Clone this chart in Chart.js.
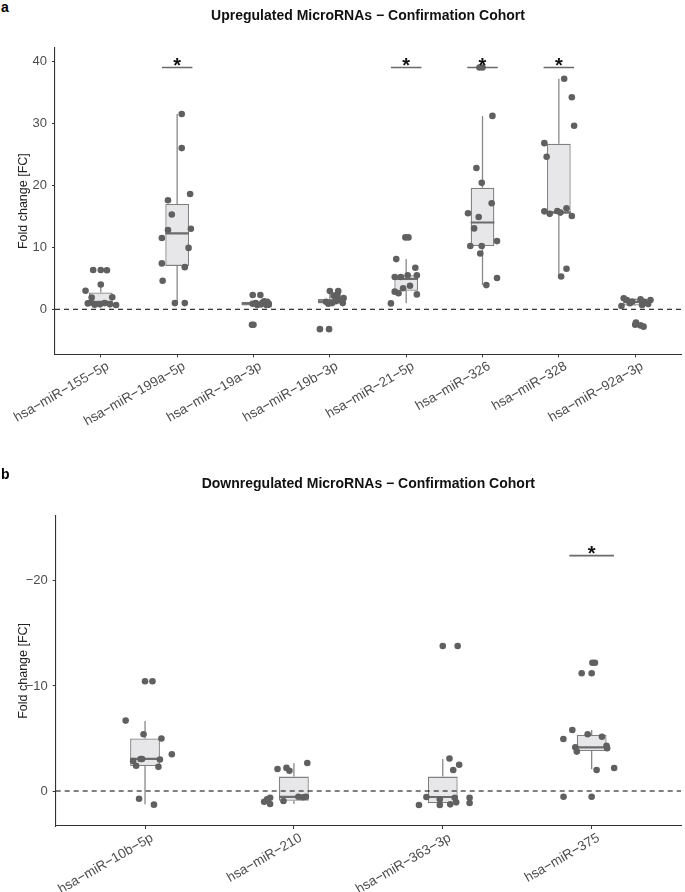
<!DOCTYPE html>
<html>
<head>
<meta charset="utf-8">
<script src="https://cdn.jsdelivr.net/npm/chart.js@4.4.1/dist/chart.umd.min.js"></script>
<style>
  body { margin: 0; background: #fff; }
  #wrap { position: relative; width: 685px; height: 892px; font-family: 'Liberation Sans', Arial, sans-serif; }
  canvas { position: absolute; left: 0; }
  .tag { position: absolute; left: 1px; font-weight: bold; font-size: 14px; line-height: 14px; }
</style>
</head>
<body>
<div id="wrap">
  <div class="tag" style="top:0px">a</div>
  <canvas id="upChart" width="685" height="470" style="top:0"></canvas>
  <div class="tag" style="top:467px">b</div>
  <canvas id="downChart" width="685" height="422" style="top:470px"></canvas>
</div>
<script>
// ---- panel a: upregulated ----
const upCategories = ['hsa-miR-155-5p', 'hsa-miR-199a-5p', 'hsa-miR-19a-3p', 'hsa-miR-19b-3p',
    'hsa-miR-21-5p', 'hsa-miR-326', 'hsa-miR-328', 'hsa-miR-92a-3p'];
const upValues = [
    [6.35, 6.35, 6.3, 4.0, 3.0, 1.9, 1.95, 0.95, 0.75, 0.8, 1.0, 0.8, 0.7, 1.1],
    [31.5, 26.0, 18.6, 17.6, 15.3, 12.8, 11.5, 13.0, 9.9, 7.4, 6.8, 4.6, 1.0, 1.0],
    [2.3, 2.3, -2.5, -2.5, 0.9, 0.7, 1.1, 0.7, 0.9, 0.75, 0.8, 1.3, 1.0, 1.2],
    [2.95, 2.95, 2.4, 2.2, -3.2, -3.2, 1.2, 1.0, 1.3, 1.4, 1.0, 1.6, 0.9, 1.8],
    [11.6, 11.6, 8.1, 6.7, 5.2, 5.2, 5.5, 5.5, 3.4, 3.8, 2.85, 2.6, 2.4, 0.95],
    [39.0, 39.0, 31.2, 22.8, 20.4, 17.1, 15.5, 14.9, 13.05, 11.0, 10.2, 10.2, 9.0, 5.05, 3.9],
    [37.2, 34.2, 29.6, 26.8, 24.6, 15.8, 15.4, 15.85, 16.3, 15.05, 15.6, 6.55, 5.3],
    [1.77, 1.5, 1.23, 1.6, 1.5, 0.53, 0.97, 0.69, 0.85, -2.15, -2.6, -2.8, -2.5, 1.2]
];
// horizontal jitter of each point (category units)
const upJitter = [
    [-0.10, 0.0, 0.08, 0.0, -0.2, -0.12, 0.15, -0.17, -0.08, -0.01, 0.05, 0.12, 0.2, -0.13],
    [0.06, 0.06, 0.17, -0.12, -0.07, -0.12, -0.2, 0.18, 0.15, -0.2, 0.1, -0.19, -0.03, 0.1],
    [-0.01, 0.09, -0.02, 0.0, -0.01, 0.05, 0.12, 0.17, 0.2, 0.2, 0.1, 0.14, 0.03, 0.18],
    [0.0, 0.11, 0.1, 0.05, -0.13, -0.01, -0.05, 0.03, 0.08, 0.15, 0.17, 0.12, -0.02, 0.18],
    [-0.01, 0.03, -0.13, 0.12, -0.15, -0.07, 0.02, 0.14, -0.04, 0.05, -0.15, -0.1, 0.14, -0.2],
    [-0.04, 0.0, 0.13, -0.08, -0.01, 0.12, -0.19, -0.05, -0.11, 0.19, -0.16, -0.01, -0.03, 0.19, 0.05],
    [0.07, 0.17, 0.2, -0.19, -0.16, -0.19, -0.12, -0.02, 0.1, 0.17, 0.02, 0.1, 0.03],
    [-0.15, -0.11, -0.04, 0.07, 0.2, -0.18, -0.07, 0.09, 0.17, 0.01, 0.07, 0.11, 0.0, 0.12]
];
const upQ1 = [0.88, 7.0, 0.6, 0.95, 3.0, 10.2, 15.4, 0.6];
const upMedian = [1.2, 12.25, 0.9, 1.3, 4.9, 14.0, 15.65, 1.2];
const upQ3 = [2.7, 17.0, 1.2, 1.66, 5.5, 19.6, 26.7, 1.7];
const upLower = [0.7, 1.0, 0.7, 0.9, 0.97, 3.9, 5.3, 0.53];
const upUpper = [4.0, 31.5, 1.3, 2.95, 8.1, 31.2, 37.2, 1.77];
const upSignificant = [false, true, false, false, true, true, true, false];
const upBracket = 39;
const upTicks = [0, 10, 20, 30, 40];

// ---- panel b: downregulated ----
const downCategories = ['hsa-miR-10b-5p', 'hsa-miR-210', 'hsa-miR-363-3p', 'hsa-miR-375'];
const downValues = [
    [-10.45, -10.45, -6.7, -5.4, -5.0, -3.5, -2.86, -3.05, -3.05, -3.0, -2.4, -2.3, 0.73, 1.3],
    [-2.1, -2.2, -1.93, -2.67, 1.02, 0.8, 0.64, 1.24, 0.95, 0.54, 0.54, 0.6],
    [-13.8, -13.8, -3.1, -2.5, -2.0, 0.57, 0.79, 0.64, 0.64, 1.33, 1.33, 1.27, 1.08, 1.14],
    [-12.2, -12.2, -11.2, -11.2, -5.8, -4.95, -5.4, -5.17, -4.16, -3.75, -4.3, -4.07, -2.0, -2.19, 0.54, 0.54]
];
const downJitter = [
    [0.0, 0.05, -0.13, -0.01, 0.11, 0.18, -0.08, -0.03, -0.02, 0.1, -0.06, 0.09, -0.04, 0.06],
    [-0.11, -0.05, -0.03, 0.09, -0.2, -0.18, -0.16, -0.16, -0.07, 0.03, 0.08, 0.06],
    [0.0, 0.1, 0.045, 0.11, 0.07, -0.11, -0.02, 0.08, 0.18, -0.16, -0.02, 0.05, 0.09, 0.18],
    [0.005, 0.022, -0.067, 0.0, -0.13, -0.19, -0.027, 0.069, -0.11, -0.1, 0.1, 0.104, 0.033, 0.151, -0.189, 0.0]
];
const downQ1 = [-2.38, 0.92, 1.17, -3.8];
const downMedian = [-3.05, 0.55, 0.57, -4.16];
const downQ3 = [-5.0, -1.37, -1.37, -5.33];
const downLower = [1.27, 1.24, 1.17, -2.06];
const downUpper = [-6.67, -2.63, -3.05, -5.8];
const downSignificant = [false, false, false, true];
const downBracket = -22.4;
const downTicks = [-20, -10, 0];

const pointColor = '#606060';
const axisColor = '#333333';
const labelColor = '#4d4d4d';
const fontFamily = "'Liberation Sans', Arial, sans-serif";

const minus = s => String(s).replace(/-/g, '\u2212');

// draws the significance asterisks above the brackets
const starPlugin = {
    id: 'stars',
    afterDatasetsDraw(chart, args, opts) {
        const { ctx, scales: { x, y } } = chart;
        ctx.save();
        ctx.font = 'bold 20px ' + fontFamily;
        ctx.textAlign = 'center';
        ctx.textBaseline = 'alphabetic';
        ctx.fillStyle = '#111';
        opts.sig.forEach((s, i) => {
            if (s) ctx.fillText('*', x.getPixelForValue(i), y.getPixelForValue(opts.level) + 4);
        });
        ctx.restore();
    }
};

function buildDatasets(d) {
    const points = [];
    d.values.forEach((vals, i) => vals.forEach((v, j) => points.push({ x: i + d.jitter[i][j], y: v })));

    const whiskers = [], medians = [], brackets = [];
    d.cats.forEach((c, i) => {
        whiskers.push({ x: i, y: d.lo[i] }, { x: i, y: d.q1[i] }, { x: i, y: null },
            { x: i, y: d.q3[i] }, { x: i, y: d.hi[i] }, { x: i, y: null });
        medians.push({ x: i - d.boxWidth / 2, y: d.med[i] }, { x: i + d.boxWidth / 2, y: d.med[i] }, { x: i, y: null });
        if (d.sig[i]) {
            brackets.push({ x: i - d.bracketHalf, y: d.bracket }, { x: i + d.bracketHalf, y: d.bracket }, { x: i, y: null });
        }
    });

    return [
        {
            type: 'scatter', data: points, order: 0,
            backgroundColor: pointColor, borderColor: pointColor,
            pointRadius: 3.3, pointBorderWidth: 0
        },
        {
            type: 'line', data: brackets, order: 0, spanGaps: false,
            borderColor: '#6a6a6a', borderWidth: 1.6, pointRadius: 0
        },
        {
            type: 'line', data: [{ x: -0.6, y: 0 }, { x: d.cats.length - 0.4, y: 0 }], order: 1,
            borderColor: '#000', borderWidth: 1, borderDash: [5, 4], pointRadius: 0
        },
        {
            type: 'line', data: medians, order: 2, spanGaps: false,
            borderColor: '#6c6c6c', borderWidth: 2.2, pointRadius: 0
        },
        {
            type: 'bar', order: 3,
            data: d.cats.map((c, i) => ({ x: i, y: [d.q1[i], d.q3[i]] })),
            backgroundColor: '#e7e7ea', borderColor: '#808080', borderWidth: 1.3,
            borderSkipped: false, barPercentage: d.boxWidth, categoryPercentage: 1
        },
        {
            type: 'line', data: whiskers, order: 4, spanGaps: false,
            borderColor: '#888888', borderWidth: 1.3, pointRadius: 0
        }
    ];
}

function makeChart(id, d) {
    return new Chart(document.getElementById(id), {
        type: 'scatter',
        data: { datasets: buildDatasets(d) },
        options: {
            responsive: false,
            animation: false,
            layout: { padding: 0 },
            plugins: {
                legend: { display: false },
                tooltip: { enabled: false },
                title: {
                    display: true, text: d.title, fullSize: false,
                    color: '#111', font: { family: fontFamily, size: 14, weight: 'bold' },
                    padding: d.titlePadding
                },
                stars: { sig: d.sig, level: d.bracket }
            },
            scales: {
                x: {
                    type: 'linear', min: -0.6, max: d.cats.length - 0.4, offset: false,
                    afterBuildTicks: s => { s.ticks = d.cats.map((c, i) => ({ value: i })); },
                    afterFit: s => { s.height = d.xHeight; },
                    border: { color: axisColor, width: 1.1 },
                    grid: { drawOnChartArea: false, offset: false, color: axisColor, tickLength: 3 },
                    ticks: {
                        autoSkip: false, minRotation: 30, maxRotation: 30, padding: 1, labelOffset: 7,
                        color: labelColor, font: { family: fontFamily, size: 13.5 },
                        callback: (v, i) => minus(d.cats[i])
                    }
                },
                y: {
                    min: d.yMin, max: d.yMax, reverse: d.reverse,
                    afterBuildTicks: s => { s.ticks = d.ticks.map(v => ({ value: v })); },
                    afterFit: s => { s.width = d.yWidth; },
                    border: { color: axisColor, width: 1.1 },
                    grid: { drawOnChartArea: false, color: axisColor, tickLength: 3 },
                    ticks: {
                        padding: 5, color: labelColor, font: { family: fontFamily, size: 13 },
                        callback: v => minus(v)
                    },
                    title: {
                        display: true, text: 'Fold change [FC]', color: '#222',
                        font: { family: fontFamily, size: 12.5 }, padding: { top: 16, bottom: 0 }
                    }
                }
            }
        },
        plugins: [starPlugin]
    });
}

makeChart('upChart', {
    title: 'Upregulated MicroRNAs \u2212 Confirmation Cohort',
    titlePadding: { top: 8, bottom: 23.2 },
    cats: upCategories, values: upValues, jitter: upJitter,
    q1: upQ1, med: upMedian, q3: upQ3, lo: upLower, hi: upUpper,
    sig: upSignificant, bracket: upBracket, bracketHalf: 0.2,
    boxWidth: 0.31, ticks: upTicks, yMin: -7.26, yMax: 42.15, reverse: false,
    yWidth: 55, xHeight: 115.7
});

makeChart('downChart', {
    title: 'Downregulated MicroRNAs \u2212 Confirmation Cohort',
    titlePadding: { top: 6, bottom: 22.9 },
    cats: downCategories, values: downValues, jitter: downJitter,
    q1: downQ1, med: downMedian, q3: downQ3, lo: downLower, hi: downUpper,
    sig: downSignificant, bracket: downBracket, bracketHalf: 0.15,
    boxWidth: 0.2, ticks: downTicks, yMin: -26.2, yMax: 3.33, reverse: true,
    yWidth: 55.7, xHeight: 66
});
</script>
</body>
</html>
